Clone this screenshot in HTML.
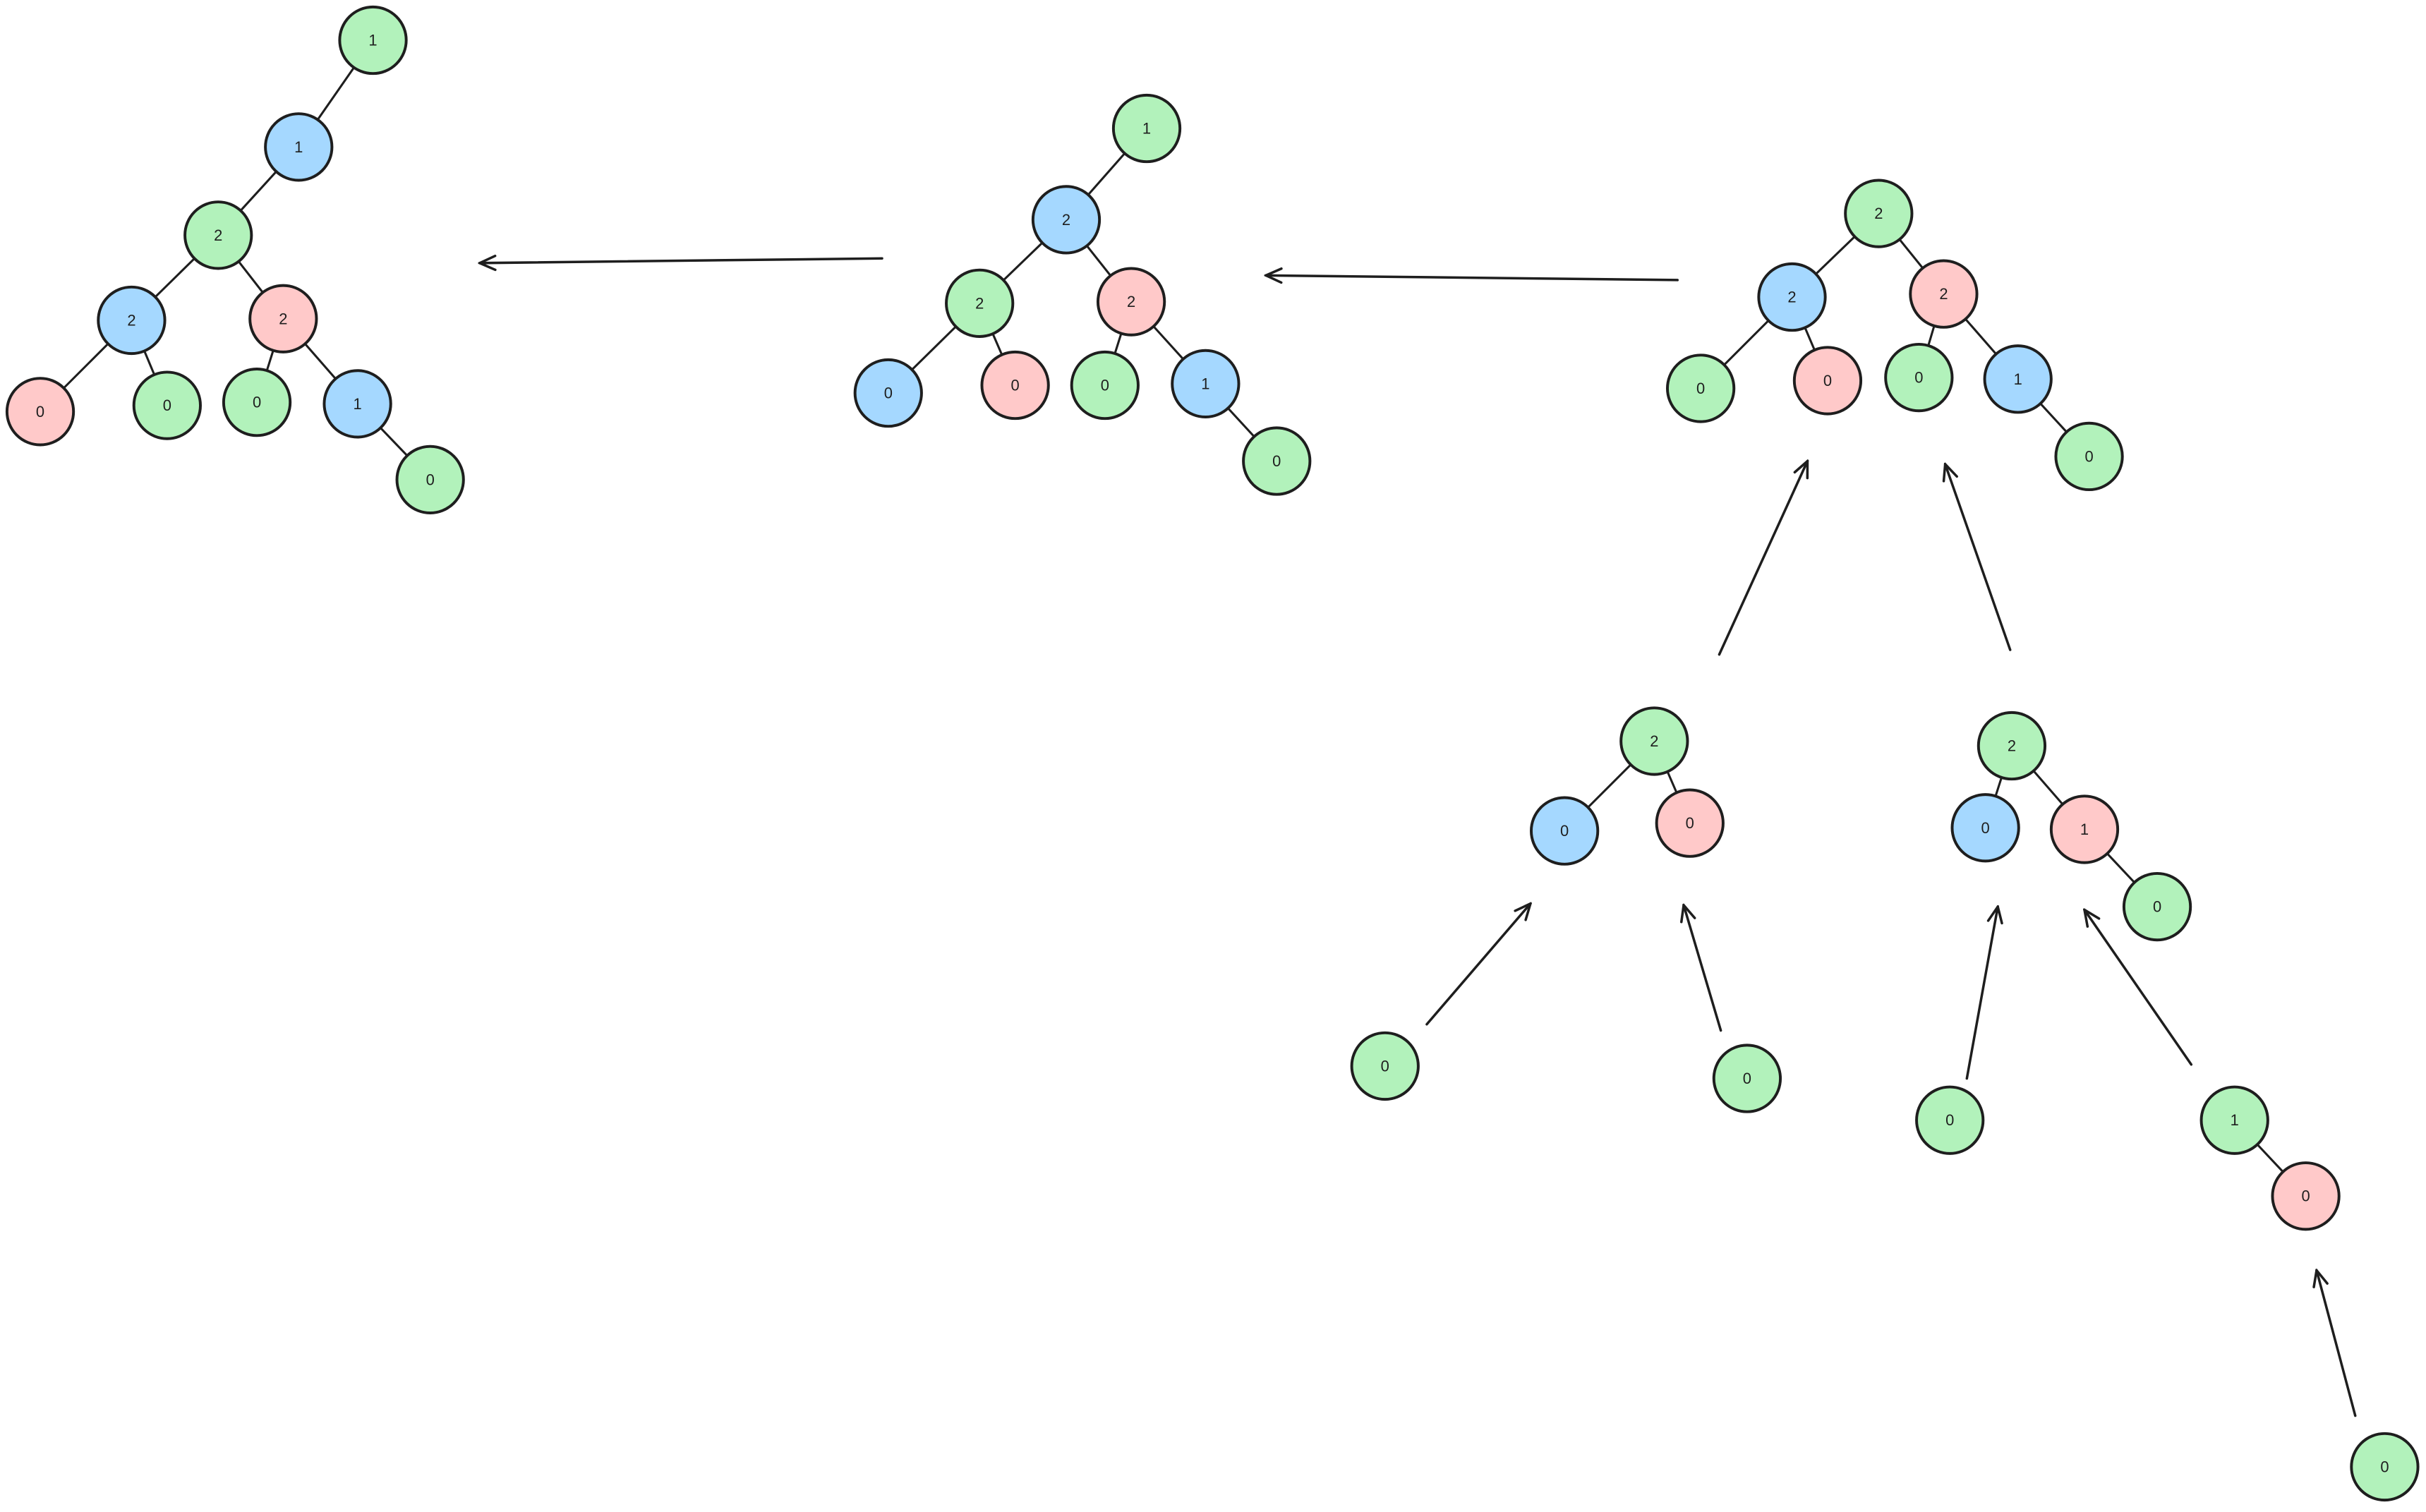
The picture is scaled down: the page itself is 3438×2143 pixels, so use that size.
<!DOCTYPE html>
<html><head><meta charset="utf-8"><style>
html,body{margin:0;padding:0;background:#fff;}
svg{display:block;}
text{font-family:"Liberation Sans",sans-serif;font-size:10px;fill:#1e1e1e;text-anchor:middle;dominant-baseline:central;}
.e{stroke:#1e1e1e;stroke-width:1.4;fill:none;stroke-linecap:round;}
.a{stroke:#1e1e1e;stroke-width:1.6;fill:none;stroke-linecap:round;}
.g{fill:#b2f2bb;} .b{fill:#a5d8ff;} .p{fill:#ffc9c9;}
circle{stroke:#1e1e1e;stroke-width:1.8;}
</style></head><body>
<svg width="3438" height="2143" viewBox="0 0 1567.7 977.2" xmlns="http://www.w3.org/2000/svg">
<defs><marker id="m" viewBox="0 0 12 12" refX="11" refY="6" markerWidth="12" markerHeight="12" markerUnits="userSpaceOnUse" orient="auto"><path d="M1 1.5 L11 6 L1 10.5" fill="none" stroke="#1e1e1e" stroke-width="1.6" stroke-linecap="round"/></marker></defs>
<!-- edges -->
<g class="e">
<line x1="241" y1="26" x2="193" y2="95"/><line x1="193" y1="95" x2="141" y2="152"/>
<line x1="141" y1="152" x2="85" y2="207"/><line x1="141" y1="152" x2="183" y2="206"/>
<line x1="85" y1="207" x2="26" y2="266"/><line x1="85" y1="207" x2="108" y2="262"/>
<line x1="183" y1="206" x2="166" y2="260"/><line x1="183" y1="206" x2="231" y2="261"/>
<line x1="231" y1="261" x2="278" y2="310"/>
<line x1="741" y1="83" x2="689" y2="142"/><line x1="689" y1="142" x2="633" y2="196"/>
<line x1="689" y1="142" x2="731" y2="195"/><line x1="633" y1="196" x2="574" y2="254"/>
<line x1="633" y1="196" x2="656" y2="249"/><line x1="731" y1="195" x2="714" y2="249"/>
<line x1="731" y1="195" x2="779" y2="248"/><line x1="779" y1="248" x2="825" y2="298"/>
<line x1="1214" y1="138" x2="1158" y2="192"/><line x1="1214" y1="138" x2="1256" y2="190"/>
<line x1="1158" y1="192" x2="1099" y2="251"/><line x1="1158" y1="192" x2="1181" y2="246"/>
<line x1="1256" y1="190" x2="1240" y2="244"/><line x1="1256" y1="190" x2="1304" y2="245"/>
<line x1="1304" y1="245" x2="1350" y2="295"/>
<line x1="1069" y1="479" x2="1011" y2="537"/><line x1="1069" y1="479" x2="1092" y2="532"/>
<line x1="1300" y1="482" x2="1283" y2="535"/><line x1="1300" y1="482" x2="1347" y2="536"/>
<line x1="1347" y1="536" x2="1394" y2="586"/>
<line x1="1444" y1="724" x2="1490" y2="773"/>
</g>
<!-- arrows -->
<g class="a">
<line x1="570" y1="167" x2="310" y2="170" marker-end="url(#m)"/>
<line x1="1084" y1="181" x2="818" y2="178" marker-end="url(#m)"/>
<line x1="1111" y1="423" x2="1168" y2="298" marker-end="url(#m)"/>
<line x1="1299" y1="420" x2="1257" y2="300" marker-end="url(#m)"/>
<line x1="922" y1="662" x2="989" y2="584" marker-end="url(#m)"/>
<line x1="1112" y1="666" x2="1088" y2="585" marker-end="url(#m)"/>
<line x1="1271" y1="697" x2="1291" y2="586" marker-end="url(#m)"/>
<line x1="1416" y1="688" x2="1347" y2="588" marker-end="url(#m)"/>
<line x1="1522" y1="915" x2="1497" y2="821" marker-end="url(#m)"/>
</g>
<!-- nodes -->
<g>
<circle class="g" cx="241" cy="26" r="21.5"/><text x="241" y="26">1</text>
<circle class="b" cx="193" cy="95" r="21.5"/><text x="193" y="95">1</text>
<circle class="g" cx="141" cy="152" r="21.5"/><text x="141" y="152">2</text>
<circle class="b" cx="85" cy="207" r="21.5"/><text x="85" y="207">2</text>
<circle class="p" cx="183" cy="206" r="21.5"/><text x="183" y="206">2</text>
<circle class="p" cx="26" cy="266" r="21.5"/><text x="26" y="266">0</text>
<circle class="g" cx="108" cy="262" r="21.5"/><text x="108" y="262">0</text>
<circle class="g" cx="166" cy="260" r="21.5"/><text x="166" y="260">0</text>
<circle class="b" cx="231" cy="261" r="21.5"/><text x="231" y="261">1</text>
<circle class="g" cx="278" cy="310" r="21.5"/><text x="278" y="310">0</text>

<circle class="g" cx="741" cy="83" r="21.5"/><text x="741" y="83">1</text>
<circle class="b" cx="689" cy="142" r="21.5"/><text x="689" y="142">2</text>
<circle class="g" cx="633" cy="196" r="21.5"/><text x="633" y="196">2</text>
<circle class="p" cx="731" cy="195" r="21.5"/><text x="731" y="195">2</text>
<circle class="b" cx="574" cy="254" r="21.5"/><text x="574" y="254">0</text>
<circle class="p" cx="656" cy="249" r="21.5"/><text x="656" y="249">0</text>
<circle class="g" cx="714" cy="249" r="21.5"/><text x="714" y="249">0</text>
<circle class="b" cx="779" cy="248" r="21.5"/><text x="779" y="248">1</text>
<circle class="g" cx="825" cy="298" r="21.5"/><text x="825" y="298">0</text>

<circle class="g" cx="1214" cy="138" r="21.5"/><text x="1214" y="138">2</text>
<circle class="b" cx="1158" cy="192" r="21.5"/><text x="1158" y="192">2</text>
<circle class="p" cx="1256" cy="190" r="21.5"/><text x="1256" y="190">2</text>
<circle class="g" cx="1099" cy="251" r="21.5"/><text x="1099" y="251">0</text>
<circle class="p" cx="1181" cy="246" r="21.5"/><text x="1181" y="246">0</text>
<circle class="g" cx="1240" cy="244" r="21.5"/><text x="1240" y="244">0</text>
<circle class="b" cx="1304" cy="245" r="21.5"/><text x="1304" y="245">1</text>
<circle class="g" cx="1350" cy="295" r="21.5"/><text x="1350" y="295">0</text>

<circle class="g" cx="1069" cy="479" r="21.5"/><text x="1069" y="479">2</text>
<circle class="b" cx="1011" cy="537" r="21.5"/><text x="1011" y="537">0</text>
<circle class="p" cx="1092" cy="532" r="21.5"/><text x="1092" y="532">0</text>

<circle class="g" cx="1300" cy="482" r="21.5"/><text x="1300" y="482">2</text>
<circle class="b" cx="1283" cy="535" r="21.5"/><text x="1283" y="535">0</text>
<circle class="p" cx="1347" cy="536" r="21.5"/><text x="1347" y="536">1</text>
<circle class="g" cx="1394" cy="586" r="21.5"/><text x="1394" y="586">0</text>

<circle class="g" cx="895" cy="689" r="21.5"/><text x="895" y="689">0</text>
<circle class="g" cx="1129" cy="697" r="21.5"/><text x="1129" y="697">0</text>
<circle class="g" cx="1260" cy="724" r="21.5"/><text x="1260" y="724">0</text>
<circle class="g" cx="1444" cy="724" r="21.5"/><text x="1444" y="724">1</text>
<circle class="p" cx="1490" cy="773" r="21.5"/><text x="1490" y="773">0</text>
<circle class="g" cx="1541" cy="948" r="21.5"/><text x="1541" y="948">0</text>
</g>
</svg>
</body></html>
